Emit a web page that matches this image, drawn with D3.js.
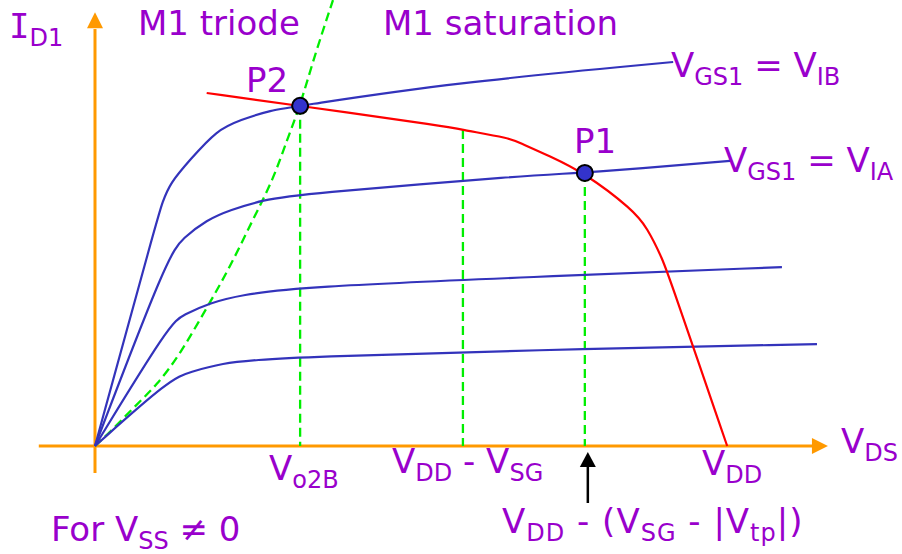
<!DOCTYPE html>
<html>
<head>
<meta charset="utf-8">
<script src="https://cdn.jsdelivr.net/npm/d3@7"></script>
<style>
  html, body { margin: 0; padding: 0; background: #fff; }
  svg { display: block; }
  text { font-family: "DejaVu Sans", sans-serif; fill: #9900cc; }
</style>
</head>
<body>
<svg id="chart"></svg>
<script>
// I-V curves of M1, [V_DS, I_D] in diagram units (0..100)
const curveLow = [[0, 0], [10.3, 15.6], [13.0, 17.2], [17.5, 19.3], [22.2, 20.0], [28.1, 20.7], [59.6, 22.3], [98.9, 23.7]];
const curveMid = [[0, 0], [10.3, 28.6], [12.1, 30.5], [15.8, 33.3], [19.9, 35.1], [28.1, 37.0], [59.6, 39.3], [94.1, 41.6]];
const curveIA = [[0, 0], [10.0, 44.4], [12.1, 48.4], [15.3, 52.6], [18.5, 54.9], [23.0, 57.2], [28.1, 58.6], [59.6, 63.0], [67.1, 63.5], [87.0, 66.3]];
const curveIB = [[0, 0], [8.5, 52.6], [9.2, 56.5], [10.3, 61.2], [13.0, 66.5], [16.7, 73.5], [19.9, 75.8], [24.0, 78.1], [28.1, 79.1], [48.6, 84.4], [79.2, 89.3]];

// load curve (red) and triode/saturation boundary (green dashed)
const loadCurve = [[15.3, 82.1], [28.1, 79.1], [48.6, 74.2], [50.4, 73.5], [56.8, 71.6], [58.2, 70.5], [62.2, 67.5], [67.1, 63.5], [73.7, 54.9], [75.6, 50.9], [77.8, 43.3], [78.8, 38.6], [86.6, 0]];
const edgeCurve = [[0, 0], [2.1, 3.3], [5.2, 8.8], [8.5, 14.2], [11.6, 21.2], [15.3, 32.1], [18.5, 41.6], [21.6, 52.6], [24.4, 61.9], [26.3, 71.2], [28.1, 79.1], [29.9, 89.8], [32.6, 103.7]];

// operating points and the marked voltages
const opPoints = [{ name: "P2", vds: 28.1, id: 79.1 }, { name: "P1", vds: 67.1, id: 63.5 }];
const guideLines = [{ vds: 28.1, id: 79.1 }, { vds: 50.4, id: 73.5 }, { vds: 67.1, id: 63.5 }];

let width = 902, height = 554;
let svg = d3.select('#chart').attr('width', width).attr('height', height);

let x = d3.scaleLinear().domain([0, 100]).range([95, 825]);
let y = d3.scaleLinear().domain([0, 100]).range([446, 16]);

const orange = '#ff9900', blue = '#3333bb', green = '#00ee00';

// axes
svg.append('line')
    .attr('x1', x(-7.7)).attr('x2', x(99))
    .attr('y1', y(0)).attr('y2', y(0))
    .attr('stroke', orange).attr('stroke-width', 3);
svg.append('line')
    .attr('x1', x(0)).attr('x2', x(0))
    .attr('y1', y(-6.3)).attr('y2', y(97))
    .attr('stroke', orange).attr('stroke-width', 3);
// arrow heads
let xt = x(100.4), yt = y(100.9);
svg.append('path')
    .attr('d', `M${xt},${y(0)} L${xt - 16},${y(0) - 8} L${xt - 16},${y(0) + 8} Z`)
    .attr('fill', orange);
svg.append('path')
    .attr('d', `M${x(0)},${yt} L${x(0) - 8},${yt + 16} L${x(0) + 8},${yt + 16} Z`)
    .attr('fill', orange);

let line = d3.line().x(d => x(d[0])).y(d => y(d[1])).curve(d3.curveBasis);

// green guides
guideLines.forEach(g => {
    svg.append('line')
        .attr('x1', x(g.vds)).attr('x2', x(g.vds))
        .attr('y1', y(g.id)).attr('y2', y(0))
        .attr('stroke', green).attr('stroke-width', 2.3)
        .attr('stroke-dasharray', '9,5');
});
svg.append('path')
    .datum(edgeCurve)
    .attr('d', line)
    .attr('fill', 'none')
    .attr('stroke', green).attr('stroke-width', 2.3)
    .attr('stroke-dasharray', '9,5');

// transistor curves
[curveLow, curveMid, curveIA, curveIB].forEach(c => {
    svg.append('path')
        .datum(c)
        .attr('d', line)
        .attr('fill', 'none')
        .attr('stroke', blue).attr('stroke-width', 2.2);
});

// load curve
svg.append('path')
    .datum(loadCurve)
    .attr('d', line)
    .attr('fill', 'none')
    .attr('stroke', '#ff0000').attr('stroke-width', 2.2);

// operating points
svg.selectAll('.dot')
    .data(opPoints)
    .enter().append('circle')
    .attr('class', 'dot')
    .attr('cx', d => x(d.vds))
    .attr('cy', d => y(d.id))
    .attr('r', 8)
    .attr('fill', '#3333cc')
    .attr('stroke', '#000').attr('stroke-width', 2);

// black arrow under P1
let ax = x(opPoints[1].vds) + 3;
svg.append('line')
    .attr('x1', ax).attr('x2', ax).attr('y1', 503).attr('y2', 465)
    .attr('stroke', '#000').attr('stroke-width', 2.5);
svg.append('path')
    .attr('d', `M${ax},452 L${ax - 8},467 L${ax + 8},467 Z`)
    .attr('fill', '#000');

// labels: parts [text, subscript?, serif I?]
const labels = [
    { x: 9, y: 38, parts: [['I', 0, 1], ['D1', 1]] },
    { x: 138, y: 35, parts: [['M1 triode', 0]] },
    { x: 383, y: 35, parts: [['M1 saturation', 0]] },
    { x: 246, y: 92, parts: [['P2', 0]] },
    { x: 574, y: 153, parts: [['P1', 0]] },
    { x: 671, y: 77, parts: [['V', 0], ['GS1', 1], [' = V', 0], ['IB', 1]] },
    { x: 724, y: 172, parts: [['V', 0], ['GS1', 1], [' = V', 0], ['IA', 1]] },
    { x: 841, y: 453, parts: [['V', 0], ['DS', 1]] },
    { x: 269, y: 480, parts: [['V', 0], ['o2B', 1]] },
    { x: 392, y: 473, parts: [['V', 0], ['DD', 1], [' - V', 0], ['SG', 1]] },
    { x: 702, y: 475, parts: [['V', 0], ['DD', 1]] },
    { x: 502, y: 533, spacing: 1, parts: [['V', 0], ['DD', 1], [' - (V', 0], ['SG', 1], [' - |V', 0], ['tp', 1], ['|)', 0]] },
    { x: 51, y: 541, parts: [['For V', 0], ['SS', 1], [' \u2260 0', 0]] }
];

labels.forEach(l => {
    let t = svg.append('text').attr('x', l.x).attr('y', l.y).attr('font-size', 34)
        .attr('letter-spacing', l.spacing || 0);
    let shift = 0;
    l.parts.forEach(p => {
        let sub = p[1] ? 8 : 0;
        let s = t.append('tspan')
            .attr('dy', sub - shift)
            .attr('font-size', p[1] ? 24 : 34)
            .text(p[0]);
        if (p[2]) s.style('font-family', '"DejaVu Sans Mono", monospace');
        shift = sub;
    });
});
</script>
</body>
</html>
